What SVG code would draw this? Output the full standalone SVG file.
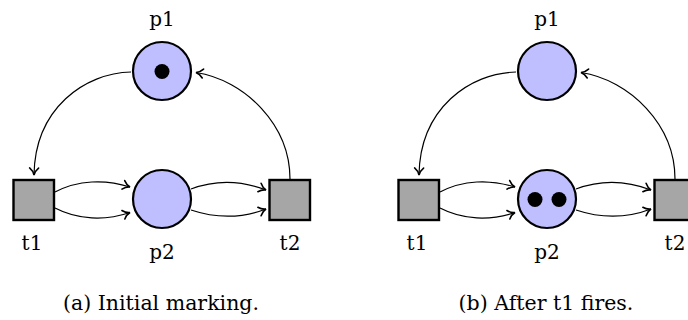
<svg xmlns="http://www.w3.org/2000/svg" width="688" height="320" viewBox="0 0 688 320">
  <style>
    .place { fill: #bfbfff; stroke: #000; stroke-width: 2.2; }
    .trans { fill: #a6a6a6; stroke: #000; stroke-width: 2.4; }
    .token { fill: #000; }
    .arc { fill: none; stroke: #000; stroke-width: 1.2; marker-end: url(#arr); }
    .lbl { font-family: "DejaVu Serif", "Liberation Serif", serif; font-size: 20px; fill: #000; text-anchor: middle; }
    .cap { font-family: "DejaVu Serif", "Liberation Serif", serif; font-size: 20.5px; fill: #000; text-anchor: middle; }
  </style>
  <defs>
    <marker id="arr" viewBox="-9 -6 11 12" refX="0" refY="0" markerWidth="11" markerHeight="12" markerUnits="userSpaceOnUse" orient="auto">
      <path d="M-7,-4.5 C-4.5,-1.5 -1.5,-0.3 0,0 C-1.5,0.3 -4.5,1.5 -7,4.5" fill="none" stroke="#000" stroke-width="1.6" stroke-linecap="round"/>
    </marker>
  </defs>

  <g id="panel-a">
    <g id="connectors-a">
      <path class="arc" d="M131,72 C85,73 35,108 34,175"/>
      <path class="arc" d="M290,179 C290,125 245,80 196,72.5"/>
      <path class="arc" d="M55,192 C78,180 105,179 130,187"/>
      <path class="arc" d="M55,208 C78,220 105,221 130,212.5"/>
      <path class="arc" d="M191,189 C215,180 240,180 266,190"/>
      <path class="arc" d="M191,210 C215,218 240,219 266,209"/>
    </g>
    <g id="a-p1">
      <circle class="place" cx="162" cy="71" r="29"/>
      <circle class="token" cx="162" cy="71.5" r="7.5"/>
      <text class="lbl" x="162" y="26">p1</text>
    </g>
    <g id="a-p2">
      <circle class="place" cx="162" cy="199" r="29"/>
      <text class="lbl" x="162" y="259">p2</text>
    </g>
    <g id="a-t1">
      <rect class="trans" x="13.5" y="180" width="40.5" height="40"/>
      <text class="lbl" x="32" y="250">t1</text>
    </g>
    <g id="a-t2">
      <rect class="trans" x="269.5" y="180" width="40.5" height="40"/>
      <text class="lbl" x="290" y="250">t2</text>
    </g>
    <text class="cap" x="161" y="310">(a) Initial marking.</text>
  </g>

  <g id="panel-b" transform="translate(385,0)">
    <g id="connectors-b">
      <path class="arc" d="M131,72 C85,73 35,108 34,175"/>
      <path class="arc" d="M290,179 C290,125 245,80 196,72.5"/>
      <path class="arc" d="M55,192 C78,180 105,179 130,187"/>
      <path class="arc" d="M55,208 C78,220 105,221 130,212.5"/>
      <path class="arc" d="M191,189 C215,180 240,180 266,190"/>
      <path class="arc" d="M191,210 C215,218 240,219 266,209"/>
    </g>
    <g id="b-p1">
      <circle class="place" cx="162" cy="71" r="29"/>
      <text class="lbl" x="162" y="26">p1</text>
    </g>
    <g id="b-p2">
      <circle class="place" cx="162" cy="199" r="29"/>
      <circle class="token" cx="150" cy="199.5" r="7.5"/>
      <circle class="token" cx="174" cy="199.5" r="7.5"/>
      <text class="lbl" x="162" y="259">p2</text>
    </g>
    <g id="b-t1">
      <rect class="trans" x="13.5" y="180" width="40.5" height="40"/>
      <text class="lbl" x="32" y="250">t1</text>
    </g>
    <g id="b-t2">
      <rect class="trans" x="269.5" y="180" width="40.5" height="40"/>
      <text class="lbl" x="290" y="250">t2</text>
    </g>
    <text class="cap" x="161" y="310">(b) After t1 fires.</text>
  </g>
</svg>
